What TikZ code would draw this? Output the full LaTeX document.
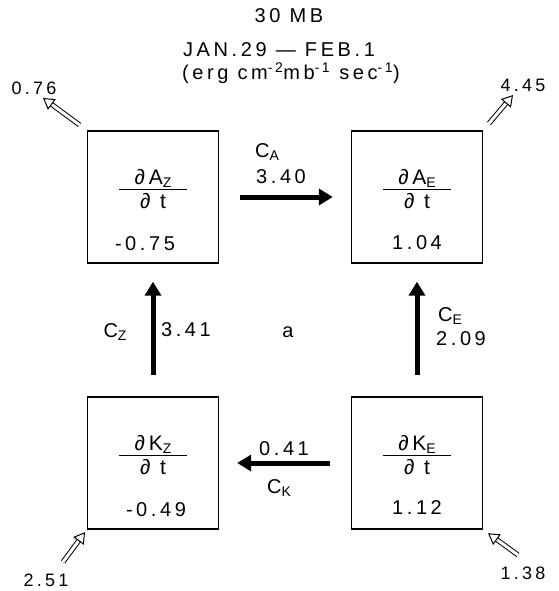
\documentclass[tikz,border=0pt]{standalone}
\usepackage{fontspec}
\setmainfont{Liberation Sans}[LetterSpace=18]
\usetikzlibrary{arrows.meta}

% fraction used inside the boxes
\newcommand{\tendfrac}[2]{${\hbox to 68pt{\hss#1\hss}\above1.3pt\hbox{\vrule width0pt height17pt#2}}$}
% lowered index letter
\newcommand{\idx}[1]{\raisebox{-2.5pt}{\fontsize{14}{14}\selectfont#1}}

\begin{document}
\begin{tikzpicture}[x=1pt,y=-1pt,
    box/.style={draw,line width=1.4pt,minimum width=131pt,minimum height=132pt},
    flow/.style={line width=5pt,-{Triangle[length=14pt,width=16pt]},shorten <=21pt,shorten >=18pt},
    inout/.style={double,double distance=3pt,line width=1pt,-{Triangle[open,length=11pt,width=13pt]}},
    lbl/.style={font=\fontsize{20}{22}\selectfont,inner sep=0pt},
    frac/.style={font=\fontsize{21}{23}\selectfont,inner sep=0pt}]

\useasboundingbox (0,0) rectangle (558,591);

% Title
\node[lbl] (title) at (289,16) {30 MB};
\node[lbl] (date) at (279,50) {JAN.29 --- FEB.1};
\node[lbl] (units) at (291,73)
    {(erg cm\textsuperscript{-2}mb\textsuperscript{-1} sec\textsuperscript{-1})};

% Draw the four boxes
\node[box] (az) at (153,197) {};
\node[box] (ae) at (417,197) {};
\node[box] (kz) at (153,463) {};
\node[box] (ke) at (417,463) {};

% Box contents
\node[frac] (azf) at ([yshift=8pt]az.center) {\tendfrac{∂A\idx{Z}}{∂ t}};
\node[frac] (aef) at ([yshift=8pt]ae.center) {\tendfrac{∂A\idx{E}}{∂ t}};
\node[frac] (kzf) at ([yshift=8pt]kz.center) {\tendfrac{∂K\idx{Z}}{∂ t}};
\node[frac] (kef) at ([yshift=8pt]ke.center) {\tendfrac{∂K\idx{E}}{∂ t}};
\node[lbl] (azv) at ([xshift=-8pt,yshift=-47pt]az.center) {-0.75};
\node[lbl] (aev) at ([yshift=-46pt]ae.center) {1.04};
\node[lbl] (kzv) at ([xshift=3pt,yshift=-47pt]kz.center) {-0.49};
\node[lbl] (kev) at ([yshift=-45pt]ke.center) {1.12};

% Conversion arrows
\draw[flow] (az.east) -- (ae.west);
\draw[flow] (kz.north) -- (az.south);
\draw[flow] (ke.north) -- (ae.south);
\draw[flow] (ke.west) -- (kz.east);

% Label the conversions
\node[lbl] (ca) at (267,152) {C\idx{A}};
\node[lbl] (cav) at (281,177) {3.40};
\node[lbl] (cz) at (115,332) {C\idx{Z}};
\node[lbl] (czv) at (186,330) {3.41};
\node[lbl] (ce) at (450,316) {C\idx{E}};
\node[lbl] (cev) at (461,339) {2.09};
\node[lbl] (ck) at (279,488) {C\idx{K}};
\node[lbl] (ckv) at (284,449) {0.41};
\node[lbl] (panel) at (288,332) {a};

% Boundary fluxes
\coordinate (azout) at (43,98);
\coordinate (aeout) at (513,95);
\coordinate (kzin) at (63,562);
\coordinate (kein) at (518,555);
\draw[inout,shorten <=9pt] (az.north west) -- (azout);
\draw[inout,shorten <=9pt] (ae.north east) -- (aeout);
\draw[inout,shorten >=3pt] (kzin) -- (kz.south west);
\draw[inout,shorten >=6pt] (kein) -- (ke.south east);
\node[lbl,font=\fontsize{18}{20}\selectfont] (azoutv) at (34,88) {0.76};
\node[lbl,font=\fontsize{18}{20}\selectfont] (aeoutv) at (523,85) {4.45};
\node[lbl,font=\fontsize{18}{20}\selectfont] (kzinv) at (46,580) {2.51};
\node[lbl,font=\fontsize{18}{20}\selectfont] (keinv) at (523,573) {1.38};
\end{tikzpicture}
\end{document}
